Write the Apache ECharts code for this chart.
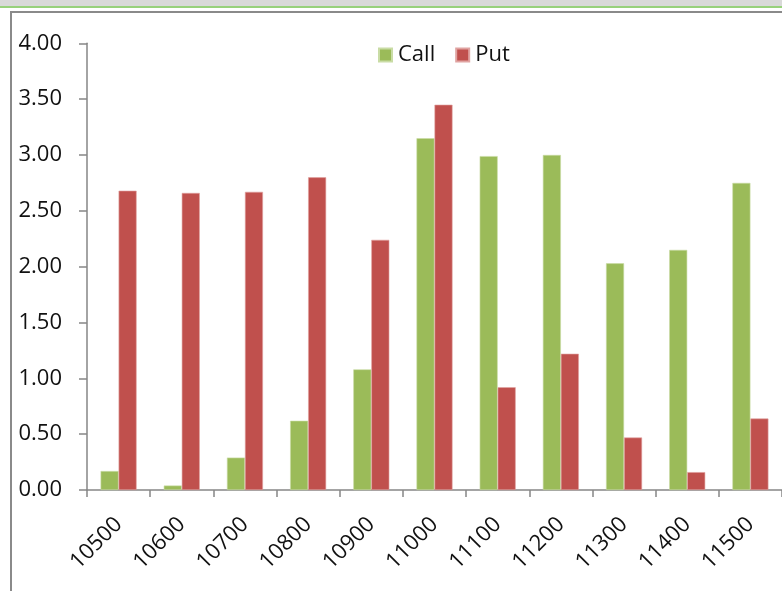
<!DOCTYPE html>
<html>
<head>
<meta charset="utf-8">
<script src="https://cdn.jsdelivr.net/npm/echarts@6/dist/echarts.min.js"></script>
<style>
html,body{margin:0;padding:0;background:#fff;}
#c{width:782px;height:591px;}
</style>
</head>
<body>
<div id="c"></div>
<script>
var categories = ['10500','10600','10700','10800','10900','11000','11100','11200','11300','11400','11500'];
var callValues = [0.17, 0.04, 0.29, 0.62, 1.08, 3.15, 2.99, 3.00, 2.03, 2.15, 2.75];
var putValues  = [2.68, 2.66, 2.67, 2.80, 2.24, 3.45, 0.92, 1.22, 0.47, 0.16, 0.64];
var yTicks = {min: 0, max: 4, interval: 0.5};

var FONT = '"Open Sans", "Noto Sans", sans-serif';
var chart = echarts.init(document.getElementById('c'), null, {renderer: 'canvas'});
chart.setOption({
  animation: false,
  backgroundColor: '#ffffff',
  graphic: [
    {type: 'rect', shape: {x: 0, y: 0, width: 782, height: 6}, style: {fill: '#d9d9d9'}, silent: true},
    {type: 'rect', shape: {x: 0, y: 6, width: 782, height: 2}, style: {fill: '#98d17c'}, silent: true},
    {type: 'rect', shape: {x: 10, y: 11, width: 772, height: 2}, style: {fill: '#8a8a8a'}, silent: true},
    {type: 'rect', shape: {x: 10, y: 11, width: 2, height: 580}, style: {fill: '#8a8a8a'}, silent: true}
  ],
  legend: {
    data: ['Call', 'Put'],
    left: 373,
    top: 39,
    icon: 'rect',
    itemWidth: 13,
    itemHeight: 13,
    itemGap: 20,
    textStyle: {fontFamily: FONT, fontSize: 22, color: '#111', padding: [0, 0, 0, 1]}
  },
  grid: {left: 87, right: -4, top: 43.3, bottom: 101, containLabel: false},
  xAxis: {
    type: 'category',
    data: categories,
    boundaryGap: true,
    axisLine: {show: true, lineStyle: {color: '#868686', width: 1.5}},
    axisTick: {show: true, alignWithLabel: false, length: 7, lineStyle: {color: '#868686', width: 1.5}},
    axisLabel: {rotate: 45, margin: 31, fontFamily: FONT, fontSize: 22, color: '#111', interval: 0}
  },
  yAxis: {
    type: 'value',
    min: yTicks.min,
    max: yTicks.max,
    interval: yTicks.interval,
    splitLine: {show: false},
    axisLine: {show: true, lineStyle: {color: '#868686', width: 1.5}},
    axisTick: {show: true, length: 8, lineStyle: {color: '#868686', width: 1.5}},
    axisLabel: {margin: 25, fontFamily: FONT, fontSize: 22, color: '#111',
      formatter: function (v) { return v.toFixed(2); }}
  },
  series: [
    {name: 'Call', type: 'bar', data: callValues, barGap: '0%', barCategoryGap: '43%',
      itemStyle: {color: '#9bbb59', borderColor: '#c9dca5', borderWidth: 0.6}},
    {name: 'Put', type: 'bar', data: putValues, barGap: '0%', barCategoryGap: '43%',
      itemStyle: {color: '#c0504d', borderColor: '#e0a3a1', borderWidth: 0.6}}
  ]
});
</script>
</body>
</html>
